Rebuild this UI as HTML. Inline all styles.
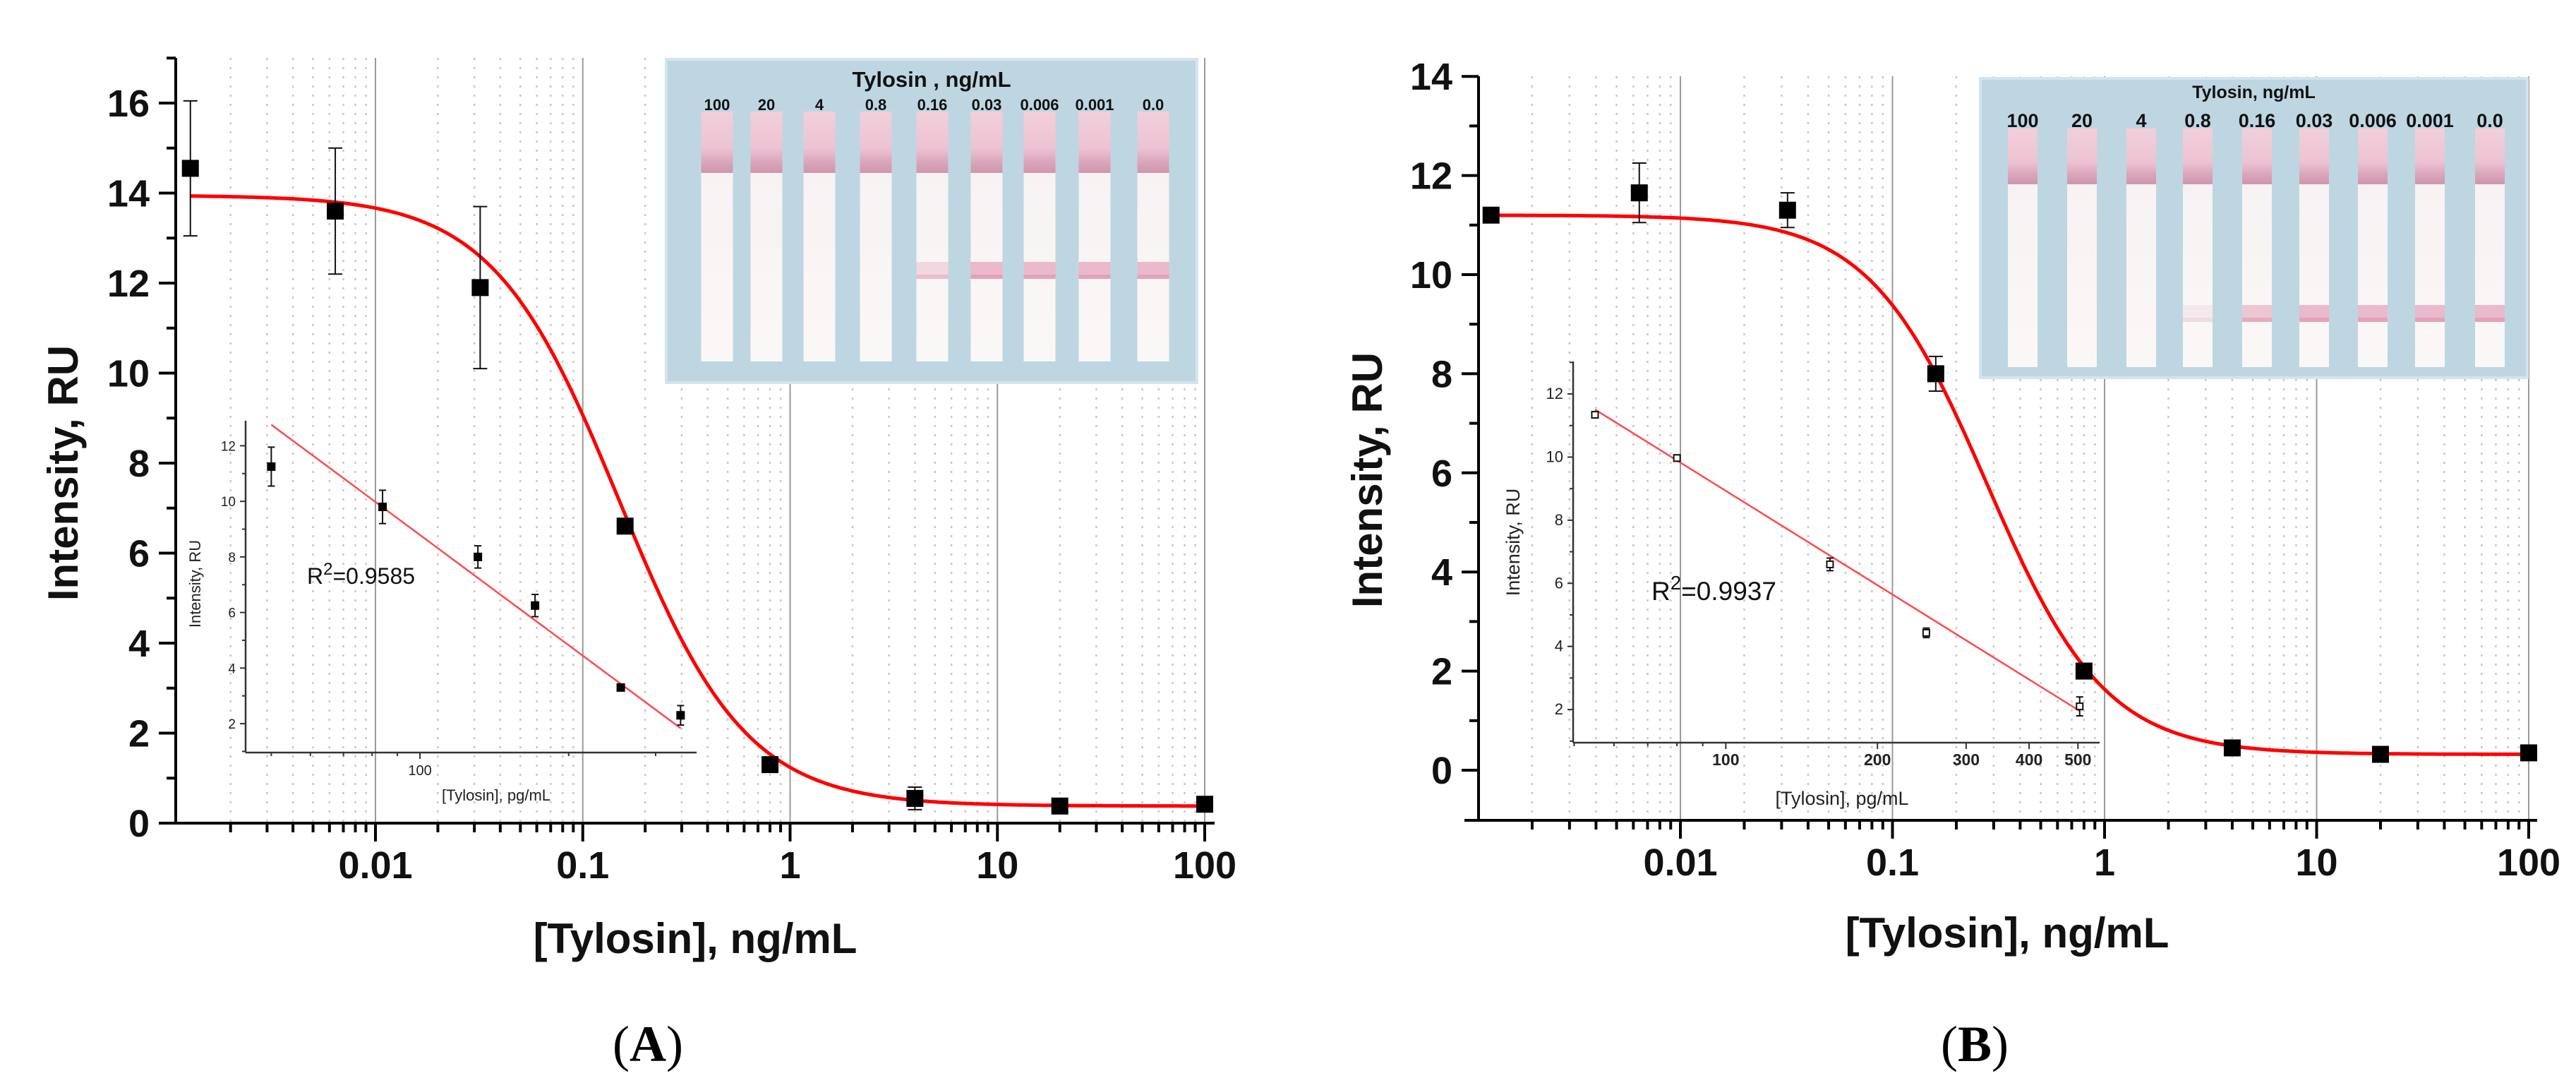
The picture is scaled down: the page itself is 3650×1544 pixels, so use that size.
<!DOCTYPE html>
<html><head><meta charset="utf-8"><style>
html,body{margin:0;padding:0;background:#fff;}
svg{display:block;font-family:"Liberation Sans",Arial,sans-serif;}
</style></head><body>
<svg id="fig" width="3650" height="1544" viewBox="0 0 3650 1544" xmlns="http://www.w3.org/2000/svg">
<defs>
<linearGradient id="padGrad" x1="0" y1="0" x2="0" y2="1">
<stop offset="0" stop-color="#f2cfdb"/><stop offset="0.6" stop-color="#edc3d2"/><stop offset="0.85" stop-color="#d8a2b8"/><stop offset="1" stop-color="#cf97ae"/>
</linearGradient>
<linearGradient id="stripGrad" x1="0" y1="0" x2="0" y2="1">
<stop offset="0" stop-color="#f6e6ec"/><stop offset="0.2" stop-color="#f8f2f3"/><stop offset="1" stop-color="#faf8f6"/>
</linearGradient>
</defs>
</svg>
<script>
// ---------- Panel A data ----------
const concA = [0.00128, 0.0064, 0.032, 0.16, 0.8, 4, 20, 100];
const intenA = [14.55, 13.6, 11.9, 6.6, 1.3, 0.55, 0.38, 0.42];
const errA = [1.5, 1.4, 1.8, 0.1, 0.1, 0.25, 0.1, 0.1];
const fitA = [13.95, 0.38, 0.15, 1.42]; // top, bottom, IC50, hill
const yTicksA = [0, 2, 4, 6, 8, 10, 12, 14, 16];
const insetConcA = [50, 84, 131, 171, 255, 337];
const insetIntenA = [11.25, 9.8, 8.0, 6.25, 3.3, 2.3];
const insetErrA = [0.7, 0.6, 0.4, 0.4, 0.1, 0.35];
const insetFitA = [35.15, -13.18]; // intercept, slope (vs log10 conc)
const insetYTicksA = [2, 4, 6, 8, 10, 12];
const insetXTicksA = [100];
// ---------- Panel B data ----------
const concB = [0.00128, 0.0064, 0.032, 0.16, 0.8, 4, 20, 100];
const intenB = [11.2, 11.65, 11.3, 8.0, 2.0, 0.45, 0.32, 0.35];
const errB = [0.08, 0.6, 0.35, 0.35, 0.1, 0.1, 0.15, 0.15];
const fitB = [11.2, 0.32, 0.28, 1.56];
const yTicksB = [0, 2, 4, 6, 8, 10, 12, 14];
const insetConcB = [55, 80, 161, 250, 504];
const insetIntenB = [11.34, 9.97, 6.6, 4.43, 2.1];
const insetErrB = [0.1, 0.1, 0.2, 0.15, 0.3];
const insetFitB = [28.79, -9.93];
const insetYTicksB = [2, 4, 6, 8, 10, 12];
const insetXTicksB = [100, 200, 300, 400, 500];
// ---------- shared ----------
const xTickVals = [0.01, 0.1, 1, 10, 100];
const xTickLabels = ['0.01', '0.1', '1', '10', '100'];
const stripLabels = ['100', '20', '4', '0.8', '0.16', '0.03', '0.006', '0.001', '0.0'];
const stripLineA = [0, 0, 0, 0, 0.5, 1, 1, 1, 1];
const stripLineB = [0, 0, 0, 0.2, 0.8, 1, 1, 1, 1];

const NS = 'http://www.w3.org/2000/svg';
const svg = document.getElementById('fig');
function mk(parent, tag, attrs, text) {
  const e = document.createElementNS(NS, tag);
  for (const k in attrs) e.setAttribute(k, attrs[k]);
  if (text !== undefined) e.textContent = text;
  parent.appendChild(e);
  return e;
}
function grp(parent) { return mk(parent, 'g', {}); }

function drawPanel(P) {
  const sx = v => P.x01 + (Math.log10(v) + 2) * P.dec;
  const sy = v => P.y0 - v * P.unit;
  const g = grp(svg);
  
  
  const gg = grp(g);
  
  
  for (let d = -3; d <= 2; d++) {
    for (let k = 1; k <= 9; k++) {
      const v = k * Math.pow(10, d);
      const x = sx(v);
      if (x < P.axL + 3 || x > P.axR) continue;
      const l = mk(gg, 'line', {x1: x, x2: x, y1: P.axTop, y2: P.axBot,
        stroke: k === 1 ? '#9a9a9a' : '#c8c8c8', 'stroke-width': k === 1 ? 2 : 2.5,
        'stroke-dasharray': k === 1 ? 'none' : '3 10'});
      
      
    }
  }
  for (let d = -3; d <= 2; d++) {
    for (let k = 1; k <= 9; k++) {
      const v = k * Math.pow(10, d);
      const x = sx(v);
      if (x < P.axL + 3 || x > P.axR) continue;
      const t = mk(g, 'line', {x1: x, x2: x, y1: P.axBot, y2: P.axBot + (k === 1 ? 26 : 13), stroke: '#000', 'stroke-width': 4});
      
      
    }
  }
  xTickVals.forEach((v, i) => {
    const t = mk(g, 'text', {x: sx(v), y: P.axBot + 78, 'text-anchor': 'middle', 'font-size': 54, 'font-weight': 'bold', fill: '#111'}, xTickLabels[i]);
    
    
  });
  for (let v = P.yTicks[0]; v <= P.yTop; v += 1) {
    const major = P.yTicks.indexOf(v) >= 0;
    const y = sy(v);
    const t = mk(g, 'line', {x1: P.axL - (major ? 24 : 13), x2: P.axL, y1: y, y2: y, stroke: '#000', 'stroke-width': 4});
    
    
  }
  P.yTicks.forEach(v => {
    const t = mk(g, 'text', {x: P.axL - 37, y: sy(v) + 19, 'text-anchor': 'end', 'font-size': 54, 'font-weight': 'bold', fill: '#111'}, String(v));
    
    
  });
  const xa = mk(g, 'line', {x1: P.axL - 20, x2: P.axR, y1: P.axBot, y2: P.axBot, stroke: '#000', 'stroke-width': 4});
  
  
  const ya = mk(g, 'line', {x1: P.axL, x2: P.axL, y1: P.axTop, y2: P.axBot + 2, stroke: '#000', 'stroke-width': 4});
  
  
  const xt = mk(g, 'text', {x: P.xTitleX, y: P.xTitleY, 'text-anchor': 'middle', 'font-size': 60, 'font-weight': 'bold', fill: '#111'}, '[Tylosin], ng/mL');
  
  
  const yt = mk(g, 'text', {x: 0, y: 0, 'text-anchor': 'middle', 'font-size': 60, 'font-weight': 'bold', fill: '#111',
    transform: 'translate(' + P.yTitleX + ',' + P.yTitleY + ') rotate(-90)'}, 'Intensity, RU');
  
  
  const pl = mk(g, 'text', {x: P.labelX, y: 1503, 'text-anchor': 'middle', 'font-size': 72, 'font-family': '"Liberation Serif",serif', fill: '#000'});
  
  
  mk(pl, 'tspan', {}, '(');
  mk(pl, 'tspan', {'font-weight': 'bold'}, P.label);
  mk(pl, 'tspan', {}, ')');

  drawStrips(g, P.strip);
  drawInset(g, P.inset);

  const f = P.fit;
  const lo = Math.log10(P.conc[0]), hi = Math.log10(P.conc[P.conc.length - 1]);
  let d = '';
  for (let i = 0; i <= 400; i++) {
    const lx = lo + (hi - lo) * i / 400;
    const c = Math.pow(10, lx);
    const yv = f[1] + (f[0] - f[1]) / (1 + Math.pow(c / f[2], f[3]));
    d += (i ? 'L' : 'M') + sx(c).toFixed(1) + ',' + sy(yv).toFixed(1);
  }
  const cv = mk(g, 'path', {d: d, fill: 'none', stroke: '#f00', 'stroke-width': 5});
  
  
  P.conc.forEach((c, i) => {
    const x = sx(c), y = sy(P.inten[i]), e = P.err[i];
    const eg = grp(g);
    
    
    mk(eg, 'line', {x1: x, x2: x, y1: sy(P.inten[i] + e), y2: sy(P.inten[i] - e), stroke: '#111', 'stroke-width': 2});
    mk(eg, 'line', {x1: x - 10, x2: x + 10, y1: sy(P.inten[i] + e), y2: sy(P.inten[i] + e), stroke: '#111', 'stroke-width': 2});
    mk(eg, 'line', {x1: x - 10, x2: x + 10, y1: sy(P.inten[i] - e), y2: sy(P.inten[i] - e), stroke: '#111', 'stroke-width': 2});
    const m = mk(g, 'rect', {x: x - 12, y: y - 12, width: 24, height: 24, fill: '#000'});
    
    
  });
}

function drawStrips(parent, S) {
  const g = grp(parent);
  
  
  mk(g, 'rect', {x: S.x, y: S.y, width: S.w, height: S.h, fill: '#bed6e2', stroke: '#d3e4ec', 'stroke-width': 4});
  const t = mk(g, 'text', {x: S.x + S.w / 2, y: S.titleY, 'text-anchor': 'middle', 'font-size': S.titleSize, 'font-weight': 'bold', fill: '#111'}, S.title);
  
  
  stripLabels.forEach((lab, i) => {
    const cx = S.centers[i];
    const sg = grp(g);
    
    
    mk(sg, 'rect', {x: cx - S.sw / 2, y: S.top, width: S.sw, height: S.bot - S.top, fill: 'url(#stripGrad)'});
    mk(sg, 'rect', {x: cx - S.sw / 2, y: S.top, width: S.sw, height: S.pad - S.top, fill: 'url(#padGrad)'});
    const a = S.lines[i];
    if (a > 0) {
      mk(sg, 'rect', {x: cx - S.sw / 2, y: S.tl, width: S.sw, height: 24, fill: '#eab9cb', opacity: a});
      mk(sg, 'rect', {x: cx - S.sw / 2, y: S.tl + 18, width: S.sw, height: 6, fill: '#e3a2ba', opacity: a});
    }
    const l = mk(g, 'text', {x: cx, y: S.labY, 'text-anchor': 'middle', 'font-size': S.labSize, 'font-weight': 'bold', fill: '#111'}, lab);
    
    
  });
}

function drawInset(parent, I) {
  const sx = v => I.L + (Math.log10(v) - I.lmin) / (I.lmax - I.lmin) * (I.R - I.L);
  const sy = v => I.B - (v - I.ymin) / (I.ymax - I.ymin) * (I.B - I.T);
  const g = grp(parent);
  
  
  const ya = mk(g, 'line', {x1: I.L, x2: I.L, y1: I.T, y2: I.B, stroke: '#333', 'stroke-width': 2.5});
  
  
  const xa = mk(g, 'line', {x1: I.L, x2: I.R, y1: I.B, y2: I.B, stroke: '#333', 'stroke-width': 2.5});
  
  
  for (let v = 1; v <= 13; v++) {
    if (v < I.ymin || v > I.ymax) continue;
    const major = I.yTicks.indexOf(v) >= 0;
    const t = mk(g, 'line', {x1: I.L - (major ? 8 : 5), x2: I.L, y1: sy(v), y2: sy(v), stroke: '#333', 'stroke-width': 2});
    
    
  }
  I.yTicks.forEach(v => {
    const t = mk(g, 'text', {x: I.L - 14, y: sy(v) + 7, 'text-anchor': 'end', 'font-size': I.fs, fill: '#222'}, String(v));
    
    
  });
  for (let d = 1; d <= 2; d++) for (let k = 1; k <= 9; k++) {
    const v = k * Math.pow(10, d);
    const x = sx(v);
    if (x < I.L || x > I.R) continue;
    const major = I.xTicks.indexOf(v) >= 0;
    const t = mk(g, 'line', {x1: x, x2: x, y1: I.B, y2: I.B + (major ? 9 : 5), stroke: '#333', 'stroke-width': 2});
    
    
  }
  I.xTicks.forEach(v => {
    const t = mk(g, 'text', {x: sx(v), y: I.B + 32, 'text-anchor': 'middle', 'font-size': I.fs + 1, 'font-weight': I.bold ? 'bold' : 'normal', fill: '#222'}, String(v));
    
    
  });
  const xt = mk(g, 'text', {x: I.xtX, y: I.xtY, 'text-anchor': 'middle', 'font-size': I.tfs, fill: '#222'}, '[Tylosin], pg/mL');
  
  
  const yt = mk(g, 'text', {x: 0, y: 0, 'text-anchor': 'middle', 'font-size': I.tfs, fill: '#222', transform: 'translate(' + I.ytX + ',' + I.ytY + ') rotate(-90)'}, 'Intensity, RU');
  
  
  const c0 = I.conc[0], c1 = I.conc[I.conc.length - 1];
  const fy = c => I.fit[0] + I.fit[1] * Math.log10(c);
  const fl = mk(g, 'line', {x1: sx(c0), y1: sy(fy(c0)), x2: sx(c1), y2: sy(fy(c1)), stroke: '#ff4a4a', 'stroke-width': 2.5});
  
  
  I.conc.forEach((c, i) => {
    const x = sx(c), y = sy(I.inten[i]), e = I.err[i];
    const eg = grp(g);
    
    
    mk(eg, 'line', {x1: x, x2: x, y1: sy(I.inten[i] + e), y2: sy(I.inten[i] - e), stroke: '#111', 'stroke-width': 2});
    mk(eg, 'line', {x1: x - 5, x2: x + 5, y1: sy(I.inten[i] + e), y2: sy(I.inten[i] + e), stroke: '#111', 'stroke-width': 2});
    mk(eg, 'line', {x1: x - 5, x2: x + 5, y1: sy(I.inten[i] - e), y2: sy(I.inten[i] - e), stroke: '#111', 'stroke-width': 2});
    const m = mk(g, 'rect', I.open ? {x: x - 4.5, y: y - 4.5, width: 9, height: 9, fill: '#fff', stroke: '#111', 'stroke-width': 2}
                                  : {x: x - 6, y: y - 6, width: 12, height: 12, fill: '#000'});
    
    
  });
  const r = mk(g, 'text', {x: I.rX, y: I.rY, 'font-size': I.rfs, fill: '#111'});
  
  
  mk(r, 'tspan', {}, 'R');
  mk(r, 'tspan', {dy: -I.rfs * 0.4, 'font-size': I.rfs * 0.75}, '2');
  mk(r, 'tspan', {dy: I.rfs * 0.4}, I.rText);
}

drawPanel({
  name: 'panel-a', label: 'A', labelX: 918,
  x01: 532, dec: 293.75, y0: 1166, unit: 63.75,
  axL: 249, axR: 1721, axTop: 82, axBot: 1166, yTop: 17,
  yTicks: yTicksA, conc: concA, inten: intenA, err: errA, fit: fitA,
  xTitleX: 985, xTitleY: 1350, yTitleX: 110, yTitleY: 670,
  strip: {x: 944, y: 84, w: 752, h: 458, title: 'Tylosin , ng/mL', titleY: 123, titleSize: 31,
    centers: [1016, 1086, 1161, 1241, 1321, 1398, 1473, 1551, 1634], sw: 45,
    top: 158, pad: 245, bot: 512, tl: 371, labY: 156, labSize: 22, lines: stripLineA},
  inset: {L: 348, R: 987, T: 596, B: 1066, lmin: 1.647, lmax: 2.56, ymin: 0.96, ymax: 12.9,
    yTicks: insetYTicksA, xTicks: insetXTicksA, conc: insetConcA, inten: insetIntenA, err: insetErrA, fit: insetFitA,
    fs: 19, tfs: 22, xtX: 703, xtY: 1134, ytX: 284, ytY: 827, open: false, bold: false,
    rX: 435, rY: 827, rfs: 32, rText: '=0.9585'}
});
drawPanel({
  name: 'panel-b', label: 'B', labelX: 2798,
  x01: 2381, dec: 300.5, y0: 1091, unit: 70.2,
  axL: 2095, axR: 3595, axTop: 108, axBot: 1162, yTop: 14,
  yTicks: yTicksB, conc: concB, inten: intenB, err: errB, fit: fitB,
  xTitleX: 2844, xTitleY: 1342, yTitleX: 1958, yTitleY: 680,
  strip: {x: 2806, y: 111, w: 775, h: 424, title: 'Tylosin, ng/mL', titleY: 139, titleSize: 25,
    centers: [2866, 2950, 3034, 3114, 3198, 3279, 3362, 3443, 3528], sw: 42,
    top: 182, pad: 261, bot: 520, tl: 432, labY: 180, labSize: 27, lines: stripLineB},
  inset: {L: 2229, R: 2975, T: 512, B: 1052, lmin: 1.697, lmax: 2.742, ymin: 0.95, ymax: 13.03,
    yTicks: insetYTicksB, xTicks: insetXTicksB, conc: insetConcB, inten: insetIntenB, err: insetErrB, fit: insetFitB,
    fs: 22, tfs: 27, xtX: 2610, xtY: 1140, ytX: 2153, ytY: 768, open: true, bold: true,
    rX: 2340, rY: 850, rfs: 37, rText: '=0.9937'}
});
</script>
</body></html>
